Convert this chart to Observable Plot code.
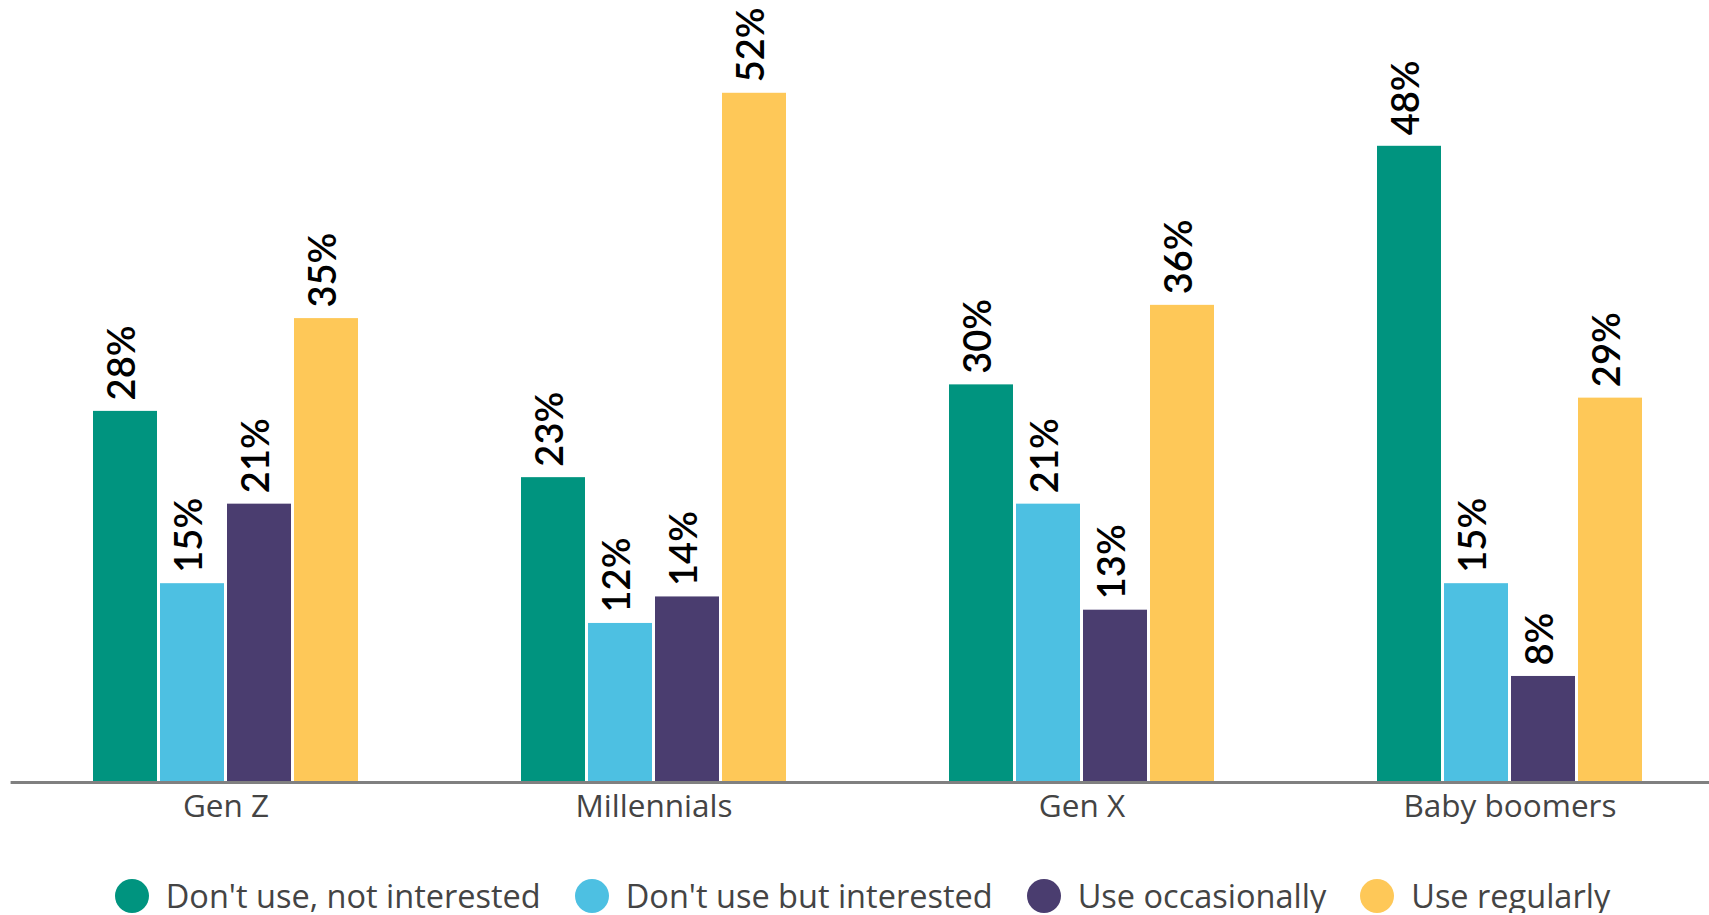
<!DOCTYPE html>
<html>
<head>
<meta charset="utf-8">
<script src="https://cdn.jsdelivr.net/npm/d3@7"></script>
<script src="https://cdn.jsdelivr.net/npm/@observablehq/plot@0.6"></script>
<style>
  html, body { margin: 0; padding: 0; background: #fff; overflow: hidden; }
  #chart svg { display: block; }
  .legend {
    display: flex; justify-content: center; align-items: center;
    height: 34px; padding-top: 14px; padding-left: 16px;
    font-family: "Open Sans", sans-serif; font-size: 32.5px; color: #444;
    width: 1693px; box-sizing: content-box; white-space: nowrap;
  }
  .legend .item { display: flex; align-items: center; margin: 0 17px; line-height: 34px; }
  .legend .dot { width: 34px; height: 34px; border-radius: 50%; margin-right: 17px; flex: none; }
</style>
</head>
<body>
<div id="chart"></div>
<div class="legend" id="legend"></div>
<script>
// Generations along the axis
const groups = ["Gen Z", "Millennials", "Gen X", "Baby boomers"];

// Usage categories and their colours
const series = [
  "Don't use, not interested",
  "Don't use but interested",
  "Use occasionally",
  "Use regularly"
];
const colors = ["#00947f", "#4dc0e2", "#4a3d6f", "#fec858"];

// Share of each generation (%), in the order of `groups`
const notInterested = [28, 23, 30, 48];
const interested    = [15, 12, 21, 15];
const occasionally  = [21, 14, 13, 8];
const regularly     = [35, 52, 36, 29];

const seriesValues = [notInterested, interested, occasionally, regularly];
const data = groups.flatMap((g, gi) =>
  series.map((s, si) => ({group: g, series: s, value: seriesValues[si][gi]}))
);

// Group band layout; the baseline in each facet is stretched across the
// outer padding so the segments join into one continuous line.
const fxRange = [11, 1725];
const fxPadInner = 0.38, fxPadOuter = 0.19;
const fxStep = (fxRange[1] - fxRange[0]) / (groups.length - fxPadInner + 2 * fxPadOuter);
const ruleExtend = fxPadOuter * fxStep + 1;

const chart = Plot.plot({
  width: 1709,
  height: 865,
  marginTop: 0,
  marginLeft: 11,
  marginRight: 0,
  marginBottom: 83,
  style: {fontFamily: "Lato, sans-serif", overflow: "visible", background: "#fff"},
  fx: {domain: groups, range: fxRange, paddingInner: fxPadInner, paddingOuter: fxPadOuter, axis: null, label: null},
  x: {domain: series, paddingInner: 0.05, paddingOuter: 0, axis: null, label: null},
  y: {domain: [0, 59], axis: null, label: null},
  color: {domain: series, range: colors},
  marks: [
    Plot.barY(data, {fx: "group", x: "series", y: "value", fill: "series", insetLeft: 0, insetRight: 0}),
    Plot.ruleY([0], {stroke: "#808080", strokeWidth: 3, insetLeft: -ruleExtend, insetRight: -ruleExtend}),
    Plot.text(data, {
      fx: "group", x: "series", y: "value",
      text: d => `${d.value}%`,
      rotate: -90, textAnchor: "start",
      dy: -11, dx: -3,
      fontSize: 38, fontWeight: 600, fill: "#000"
    }),
    Plot.text(groups, {
      fx: d => d, text: d => d,
      frameAnchor: "bottom", lineAnchor: "top", dy: 12,
      fontFamily: "Open Sans, sans-serif",
      fontSize: 31.5, fill: "#444"
    })
  ]
});
document.getElementById("chart").appendChild(chart);

// Legend with round swatches
const legend = document.getElementById("legend");
series.forEach((s, i) => {
  const item = document.createElement("div");
  item.className = "item";
  const dot = document.createElement("span");
  dot.className = "dot";
  dot.style.background = colors[i];
  const label = document.createElement("span");
  label.textContent = s;
  item.appendChild(dot);
  item.appendChild(label);
  legend.appendChild(item);
});
</script>
</body>
</html>
